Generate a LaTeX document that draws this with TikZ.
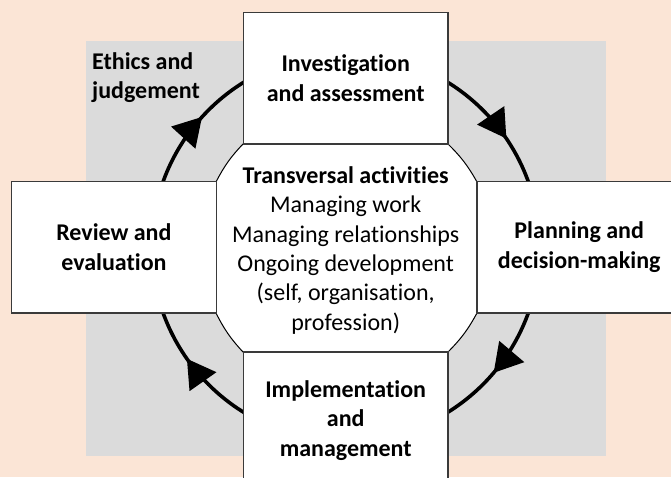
\documentclass[tikz,border=0pt]{standalone}
\usepackage{fontspec}
\setmainfont{Carlito}[Ligatures=NoCommon]
\usepackage{xcolor}
\usepackage{tikz}
\usetikzlibrary{arrows.meta,positioning,decorations.markings}

\definecolor{peach}{HTML}{FBE5D6}
\definecolor{greyback}{HTML}{DBDBDB}
\definecolor{boxline}{HTML}{3A3A3A}

\begin{document}
\begin{tikzpicture}[x=1pt,y=1pt,
	stagebox/.style={draw=boxline,line width=1.2pt,fill=white,inner sep=0pt,
		minimum width=204.5pt,minimum height=131.3pt,align=center,
		font=\fontsize{24}{29.5}\selectfont\bfseries},
	cycle/.style={line width=3.6pt,postaction={decorate},decoration={markings,
		mark=at position 0.1120 with {\arrow{Triangle[length=28pt,width=32pt]}},
		mark=at position 0.4026 with {\arrow{Triangle[length=28pt,width=32pt]}},
		mark=at position 0.6173 with {\arrow{Triangle[length=28pt,width=32pt]}},
		mark=at position 0.9053 with {\arrow{Triangle[length=28pt,width=32pt]}}}}]
	\useasboundingbox (0,0) rectangle (671,477);
	\fill[peach] (0,0) rectangle (671,477);
	\fill[greyback] (86,20.7) rectangle (606,436);
	\coordinate (centre) at (345.7,229.7);
	% cycle round the stages, clockwise
	\draw[cycle] (centre) ++(0:194) arc[start angle=0,end angle=-360,radius=194];
	% transversal activities
	\draw[fill=white,line width=1pt] (243,333) -- (448,333) to[bend left=8] (477,295) -- (477,164)
		to[bend left=8] (448,125) -- (243,125) to[bend left=8] (216,164) -- (216,295) to[bend left=8] cycle;
	\node[align=center,font=\fontsize{24}{29.3}\selectfont] (transversal) at ([yshift=-3pt]centre)
		{\textbf{Transversal activities}\\Managing work\\Managing relationships\\Ongoing development\\(self, organisation,\\profession)};
	% stages
	\node[stagebox] (investigation) at (345.7,398.7) {Investigation\\and assessment};
	\node[stagebox] (planning) at (579.2,229.7) {Planning and\\decision-making};
	\node[stagebox,minimum height=137pt] (implementation) at (345.7,56.5) {Implementation\\and\\management};
	\node[stagebox] (review) at (113.9,229.7) {Review and\\evaluation};
	\node[align=left,anchor=north west,inner sep=0pt,font=\fontsize{24}{29.5}\selectfont\bfseries] (ethics) at (92,425)
		{Ethics and\\judgement};
\end{tikzpicture}
\end{document}
